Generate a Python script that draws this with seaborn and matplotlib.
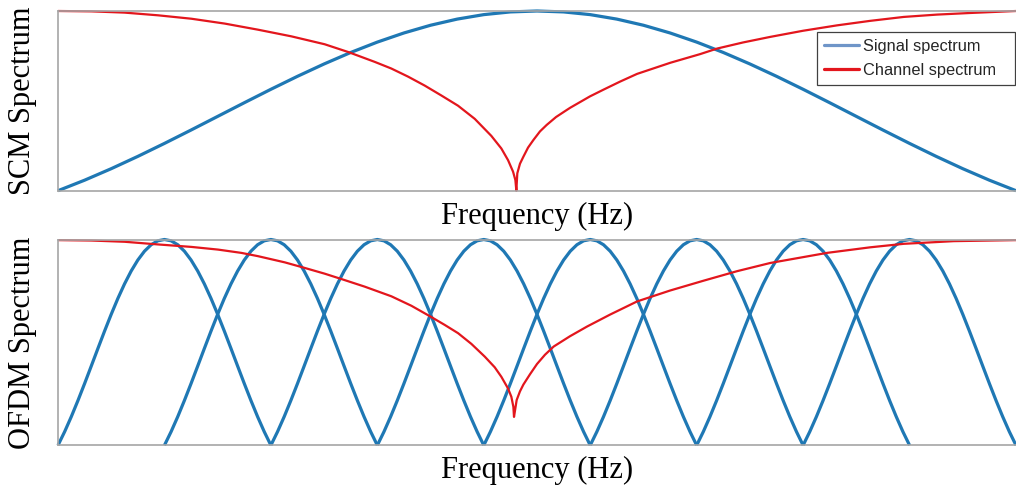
import numpy as np
import pandas as pd
import seaborn as sns
import matplotlib.pyplot as plt
from matplotlib.lines import Line2D

# ---- data (frequency in units of subcarrier spacing, span 0..9) ----
# single-carrier signal spectrum (main lobe), sampled every 0.25
scm_freq = [i * 0.25 for i in range(37)]
scm_signal = [0.0, 0.0585, 0.1225, 0.1910, 0.2631, 0.3376, 0.4135, 0.4895, 0.5643,
              0.6366, 0.7053, 0.7692, 0.8270, 0.8778, 0.9207, 0.9549, 0.9798, 0.9949,
              1.0,
              0.9949, 0.9798, 0.9549, 0.9207, 0.8778, 0.8270, 0.7692, 0.7053, 0.6366,
              0.5643, 0.4895, 0.4135, 0.3376, 0.2631, 0.1910, 0.1225, 0.0585, 0.0]

# channel magnitude, upper panel
scm_chan_freq = [0.0, 0.313, 0.626, 0.940, 1.253, 1.566, 1.879, 2.192, 2.505, 2.725,
                 2.975, 3.131, 3.288, 3.445, 3.601, 3.758, 3.915, 4.071, 4.165, 4.228,
                 4.275, 4.297, 4.306,
                 4.315, 4.340, 4.372, 4.416, 4.466, 4.528, 4.591, 4.679, 4.779, 4.813,
                 4.998, 5.127, 5.280, 5.440, 5.753, 6.032, 6.192, 6.436, 6.692, 6.999,
                 7.318, 7.628, 7.945, 8.258, 8.571, 9.0]
scm_channel = [1.0, 0.998, 0.991, 0.976, 0.957, 0.930, 0.896, 0.859, 0.815, 0.772,
               0.717, 0.680, 0.635, 0.585, 0.530, 0.473, 0.400, 0.305, 0.235, 0.170,
               0.106, 0.059, 0.0,
               0.097, 0.150, 0.189, 0.240, 0.282, 0.330, 0.366, 0.410, 0.449, 0.462,
               0.525, 0.563, 0.607, 0.650, 0.712, 0.760, 0.791, 0.825, 0.856, 0.890,
               0.920, 0.945, 0.967, 0.980, 0.989, 1.0]

# OFDM subcarriers: one lobe profile, repeated at each subcarrier centre
ofdm_centers = [1, 2, 3, 4, 5, 6, 7, 8]
lobe_offset = [i / 16 - 1 for i in range(33)]
lobe_profile = [0.0, 0.0662, 0.1392, 0.2177, 0.3001, 0.3850, 0.4705, 0.5550, 0.6366,
                0.7136, 0.7842, 0.8469, 0.9003, 0.9432, 0.9745, 0.9936, 1.0,
                0.9936, 0.9745, 0.9432, 0.9003, 0.8469, 0.7842, 0.7136, 0.6366,
                0.5550, 0.4705, 0.3850, 0.3001, 0.2177, 0.1392, 0.0662, 0.0]

# channel magnitude, lower panel
ofdm_chan_freq = [0.0, 0.313, 0.626, 0.940, 1.253, 1.503, 1.722, 1.879, 2.130, 2.317,
                  2.505, 2.662, 2.881, 3.132, 3.320, 3.508, 3.633, 3.758, 3.883, 4.009,
                  4.103, 4.165, 4.228, 4.259, 4.278, 4.284,
                  4.309, 4.340, 4.372, 4.434, 4.500, 4.575, 4.657, 4.810, 4.970, 5.186,
                  5.440, 5.750, 6.066, 6.379, 6.692, 7.225, 7.630, 7.945, 8.415, 9.0]
ofdm_channel = [0.997, 0.995, 0.989, 0.976, 0.964, 0.951, 0.935, 0.919, 0.889, 0.862,
                0.834, 0.808, 0.771, 0.724, 0.678, 0.623, 0.585, 0.545, 0.493, 0.431,
                0.379, 0.333, 0.276, 0.236, 0.187, 0.138,
                0.220, 0.262, 0.295, 0.345, 0.395, 0.440, 0.480, 0.530, 0.577, 0.635,
                0.699, 0.752, 0.800, 0.846, 0.886, 0.935, 0.962, 0.979, 0.992, 0.997]

legend_labels = ["Signal spectrum", "Channel spectrum"]
xlabel = "Frequency (Hz)"
ylabels = ["SCM Spectrum", "OFDM Spectrum"]

# ---- style ----
sns.set_theme(style="white")
plt.rcParams["font.family"] = ["DejaVu Sans"]

BLUE = "#1f78b4"
RED = "#e3161d"
LEG_BLUE = "#6f95c8"
SPINE = "#a6a6a6"
SERIF = ["Liberation Serif", "DejaVu Serif"]
line_kw = dict(sort=False, clip_on=False, solid_joinstyle="round",
               solid_capstyle="butt")

fig = plt.figure(figsize=(10.16, 4.88), dpi=100)
ax_top = fig.add_axes([58 / 1016, 1 - 190.7 / 488, 958 / 1016, 179.7 / 488])
ax_bot = fig.add_axes([58 / 1016, 1 - 445.3 / 488, 958 / 1016, 205.8 / 488])

# upper panel
sns.lineplot(x=scm_freq, y=scm_signal, ax=ax_top, color=BLUE, linewidth=2.3, **line_kw)
sns.lineplot(x=scm_chan_freq, y=scm_channel, ax=ax_top, color=RED, linewidth=1.6,
             **line_kw)

# lower panel
for c in ofdm_centers:
    sns.lineplot(x=[c + o for o in lobe_offset], y=lobe_profile, ax=ax_bot,
                 color=BLUE, linewidth=2.3, **line_kw)
sns.lineplot(x=ofdm_chan_freq, y=ofdm_channel, ax=ax_bot, color=RED, linewidth=1.6,
             **line_kw)

for ax, yl in zip([ax_top, ax_bot], ylabels):
    ax.set_xlim(0, 9)
    ax.set_ylim(0, 1)
    ax.set_xticks([])
    ax.set_yticks([])
    for side in ["top", "bottom", "left"]:
        ax.spines[side].set_visible(True)
        ax.spines[side].set_color(SPINE)
        ax.spines[side].set_linewidth(1.2)
    ax.spines["right"].set_visible(False)
    ax.set_xlabel(xlabel, fontsize=22, family=SERIF, color="black", labelpad=8)
    ax.set_ylabel(yl, fontsize=22, family=SERIF, color="black")
    ax.yaxis.set_label_coords(-21 / 958, 0.5)

handles = [Line2D([], [], color=LEG_BLUE, linewidth=2.3),
           Line2D([], [], color=RED, linewidth=2.3)]
leg = ax_top.legend(handles, legend_labels, loc="upper left", mode="expand",
                    bbox_to_anchor=((817 - 58) / 958, (190.7 - 33.5) / 179.7,
                                    198 / 958, 0.01),
                    borderaxespad=0, frameon=True, fancybox=False, framealpha=1,
                    prop={"family": ["Liberation Sans", "DejaVu Sans"], "size": 11.8},
                    handlelength=2.1, handletextpad=0.25, labelspacing=0.55,
                    borderpad=0.45)
leg.get_frame().set_edgecolor("#404040")
leg.get_frame().set_linewidth(0.9)

fig.savefig("out.png", dpi=100, facecolor="white")
